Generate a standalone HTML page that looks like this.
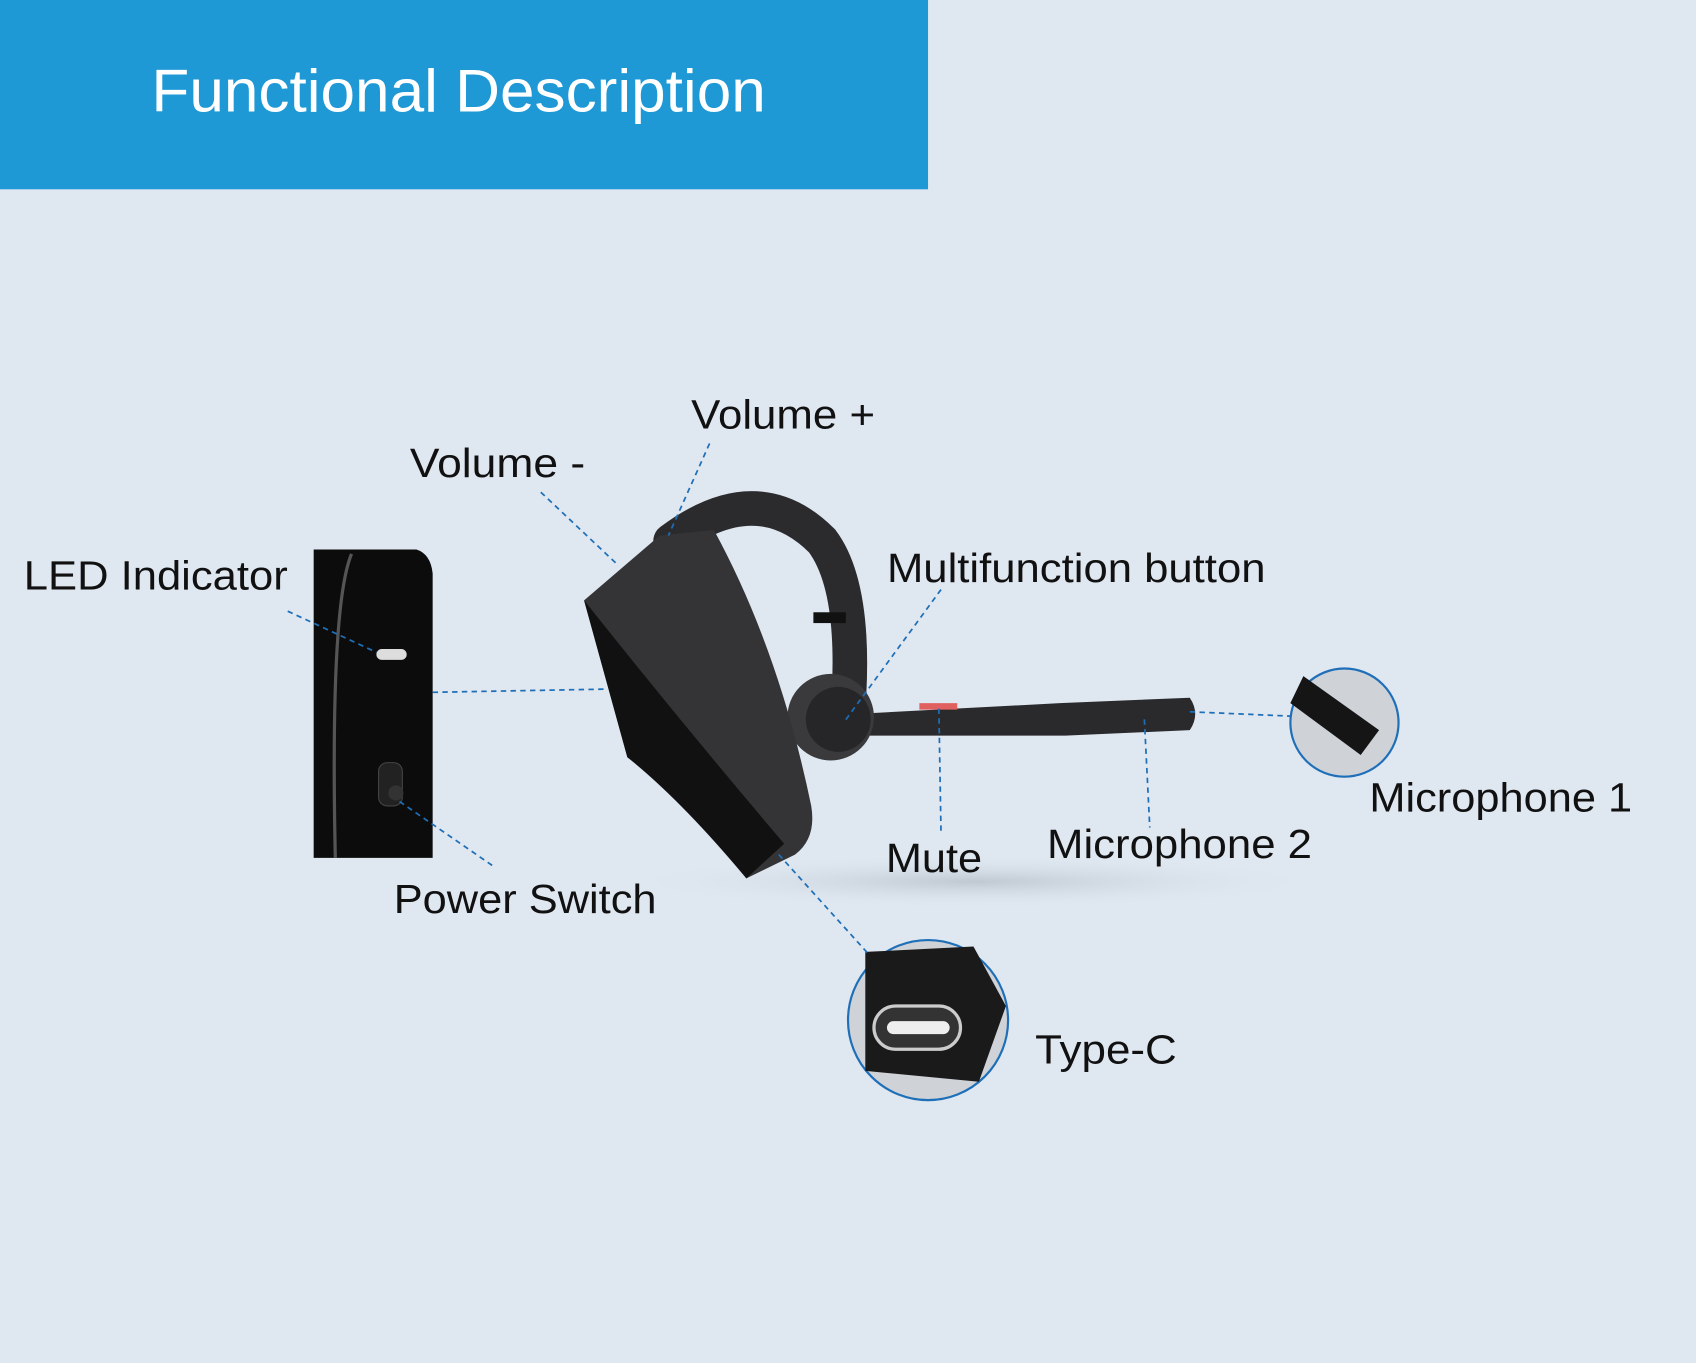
<!DOCTYPE html>
<html><head><meta charset="utf-8"><style>
html,body{margin:0;padding:0;background:#dfe7f1;}
svg{display:block;}
text{font-family:"Liberation Sans",sans-serif;fill:#111;}
</style></head><body>
<svg width="1696" height="1363" viewBox="0 0 1568 1260" preserveAspectRatio="none">
<defs>
<radialGradient id="sh" cx="0.5" cy="0.5" r="0.5"><stop offset="0" stop-color="#b8c0ca" stop-opacity="0.8"/><stop offset="1" stop-color="#dfe7f1" stop-opacity="0"/></radialGradient>
</defs>
<rect width="1568" height="1260" fill="#dfe7f1"/>
<rect x="0" y="0" width="858" height="175" fill="#1e99d6"/>
<text x="140" y="103" font-size="56" textLength="568" lengthAdjust="spacingAndGlyphs" style="fill:#fff">Functional Description</text>

<ellipse cx="900" cy="815" rx="330" ry="25" fill="url(#sh)"/>

<path d="M290 508 L385 508 Q398 512 400 530 L400 793 L290 793 Z" fill="#0c0c0c"/>
<path d="M325 512 Q305 560 310 793" stroke="#555" stroke-width="3" fill="none"/>
<rect x="348" y="600" width="28" height="10" rx="5" fill="#ddd"/>
<rect x="350" y="705" width="22" height="40" rx="8" fill="#222" stroke="#444"/>
<circle cx="366" cy="733" r="7" fill="#333"/>

<path d="M620 500 Q700 440 760 500 Q790 540 785 640" stroke="#2b2b2d" stroke-width="32" fill="none" stroke-linecap="round"/>
<rect x="752" y="566" width="30" height="10" fill="#111"/>
<path d="M790 660 L980 650 L1100 645 Q1110 660 1100 675 L985 680 L800 680 Z" fill="#2a2a2c"/>
<rect x="850" y="650" width="35" height="6" fill="#e06060"/>
<circle cx="768" cy="663" r="40" fill="#3a3a3c"/>
<circle cx="775" cy="665" r="30" fill="#262628"/>
<path d="M540 555 L610 495 L660 490 Q720 600 750 745 Q755 775 735 790 L690 812 Q650 740 580 700 Z" fill="#343436"/>
<path d="M540 555 L560 580 Q640 680 725 780 L690 812 Q630 740 580 700 Z" fill="#111"/>

<circle cx="858" cy="943" r="74" fill="#cfd3d8" stroke="#1e6fb8" stroke-width="2"/>
<path d="M800 880 L900 875 L930 930 L905 1000 L800 990 Z" fill="#1a1a1a"/>
<rect x="808" y="930" width="80" height="40" rx="20" fill="#333" stroke="#ccc" stroke-width="3"/>
<rect x="820" y="944" width="58" height="12" rx="6" fill="#eee"/>
<circle cx="1243" cy="668" r="50" fill="#cfd3d8" stroke="#1e6fb8" stroke-width="2"/>
<path d="M1205 625 L1275 675 L1258 698 L1193 650 Z" fill="#151515"/>

<g stroke="#1e6fb8" stroke-width="1.6" stroke-dasharray="5,4" fill="none">
<line x1="266" y1="565" x2="348" y2="603"/>
<line x1="400" y1="640" x2="562" y2="637"/>
<line x1="455" y1="800" x2="368" y2="740"/>
<line x1="500" y1="455" x2="572" y2="523"/>
<line x1="656" y1="410" x2="618" y2="495"/>
<line x1="870" y1="545" x2="780" y2="668"/>
<line x1="868" y1="655" x2="870" y2="770"/>
<line x1="1058" y1="665" x2="1063" y2="765"/>
<line x1="1100" y1="658" x2="1193" y2="662"/>
<line x1="720" y1="790" x2="803" y2="882"/>
</g>

<g font-size="38">
<text x="22" y="545" textLength="244" lengthAdjust="spacingAndGlyphs">LED Indicator</text>
<text x="379" y="441" textLength="162" lengthAdjust="spacingAndGlyphs">Volume -</text>
<text x="639" y="396" textLength="170" lengthAdjust="spacingAndGlyphs">Volume +</text>
<text x="820" y="538" textLength="350" lengthAdjust="spacingAndGlyphs">Multifunction button</text>
<text x="364" y="844" textLength="243" lengthAdjust="spacingAndGlyphs">Power Switch</text>
<text x="819" y="806" textLength="89" lengthAdjust="spacingAndGlyphs">Mute</text>
<text x="968" y="793" textLength="245" lengthAdjust="spacingAndGlyphs">Microphone 2</text>
<text x="1266" y="750" textLength="243" lengthAdjust="spacingAndGlyphs">Microphone 1</text>
<text x="957" y="983" textLength="131" lengthAdjust="spacingAndGlyphs">Type-C</text>
</g>
</svg>
</body></html>
